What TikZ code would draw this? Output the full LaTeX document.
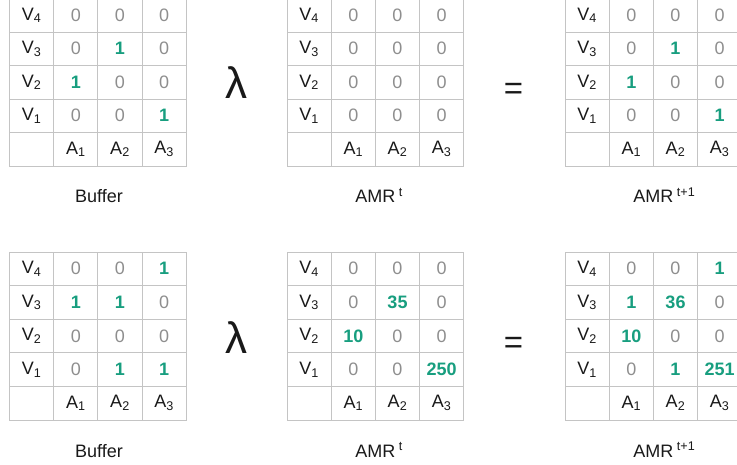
\documentclass[tikz,border=0pt]{standalone}
\usepackage{fontspec}
\setmainfont{Liberation Sans}
\usetikzlibrary{positioning}

\definecolor{linegray}{HTML}{C4C4C4}
\definecolor{zerogray}{HTML}{8E8E8E}
\definecolor{hitgreen}{HTML}{189E7F}

\tikzset{
  cell/.style={draw=linegray, line width=0.9pt, minimum width=44.2pt, inner sep=0pt,
    font=\fontsize{18}{21}\selectfont, text=black!90},
  op/.style={inner sep=0pt, anchor=base, text=black!90},
  caption/.style={inner sep=0pt, anchor=base, font=\fontsize{18}{21}\selectfont, text=black!90}
}

% zeros in grey, counts in bold green
\newcommand{\cellval}[1]{\ifnum#1=0 \textcolor{zerogray}{#1}\else\textcolor{hitgreen}{\bfseries#1}\fi}

% #1 name, #2 left, #3 top, #4 row height, #5..#8 rows V4..V1
\newcommand{\countgrid}[8]{
  \foreach \vals [count=\r] in {{#5},{#6},{#7},{#8}} {
    \pgfmathtruncatemacro{\vi}{5-\r}
    \node[cell, minimum height=#4pt] (#1-\r-0) at (#2+22.1, #3+\r*#4-0.5*#4) {V\textsubscript{\vi}};
    \foreach \v [count=\c] in \vals
      \node[cell, minimum height=#4pt] (#1-\r-\c) at (#2+22.1+\c*44.2, #3+\r*#4-0.5*#4) {\cellval{\v}};
  }
  \node[cell, minimum height=#4pt] (#1-5-0) at (#2+22.1, #3+4.5*#4) {};
  \foreach \c in {1,2,3}
    \node[cell, minimum height=#4pt] (#1-5-\c) at (#2+22.1+\c*44.2, #3+4.5*#4) {A\textsubscript{\c}};
}

\begin{document}
\begin{tikzpicture}[x=1pt,y=-1pt]
  \useasboundingbox (0,0) rectangle (737,465);
  \clip (0,0) rectangle (737,465);

  % first step: empty AMR
  \countgrid{bufa}{9.5}{-1.5}{33.5}{0,0,0}{0,1,0}{1,0,0}{0,0,1}
  \countgrid{amra}{287}{-1.5}{33.5}{0,0,0}{0,0,0}{0,0,0}{0,0,0}
  \countgrid{nexta}{565}{-1.5}{33.5}{0,0,0}{0,1,0}{1,0,0}{0,0,1}

  \node[op, font=\fontsize{44}{44}\selectfont] (lama) at (236.5,99) {λ};
  \node[op, font=\fontsize{33}{33}\selectfont] (eqa) at (513.5,100) {=};

  \node[caption] (bufa-cap) at (99,203) {Buffer};
  \node[caption] (amra-cap) at (375.4,203) {AMR\rlap{\textsuperscript{\;t}}};
  \node[caption] (nexta-cap) at (653.4,203) {AMR\rlap{\textsuperscript{\;t+1}}};

  % second step: AMR with earlier counts
  \countgrid{bufb}{9.5}{252}{33.6}{0,0,1}{1,1,0}{0,0,0}{0,1,1}
  \countgrid{amrb}{287}{252}{33.6}{0,0,0}{0,35,0}{10,0,0}{0,0,250}
  \countgrid{nextb}{565}{252}{33.6}{0,0,1}{1,36,0}{10,0,0}{0,1,251}

  \node[op, font=\fontsize{44}{44}\selectfont] (lamb) at (236.5,353) {λ};
  \node[op, font=\fontsize{33}{33}\selectfont] (eqb) at (513.5,354) {=};

  \node[caption] (bufb-cap) at (99,457) {Buffer};
  \node[caption] (amrb-cap) at (375.4,457) {AMR\rlap{\textsuperscript{\;t}}};
  \node[caption] (nextb-cap) at (653.4,457) {AMR\rlap{\textsuperscript{\;t+1}}};
\end{tikzpicture}
\end{document}
